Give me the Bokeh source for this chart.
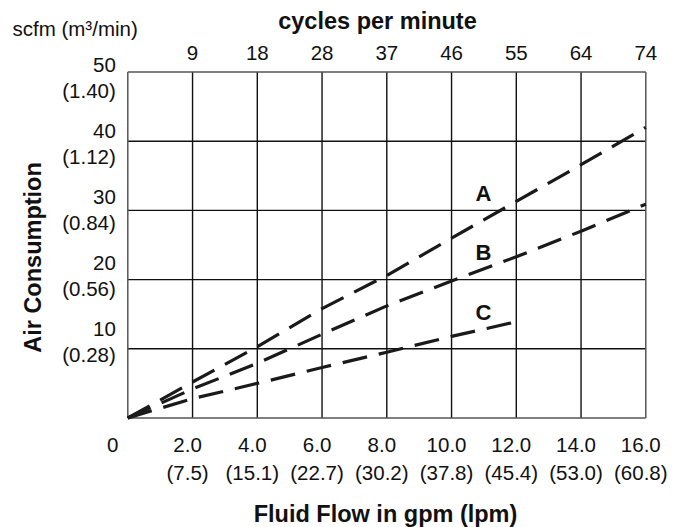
from bokeh.plotting import figure
from bokeh.models import Range1d
from bokeh.core.properties import value
from bokeh.embed import file_html
from bokeh.resources import INLINE

# ---------------- data ----------------
gpm_ticks = [0, 2, 4, 6, 8, 10, 12, 14, 16]
gpm_labels = ["0", "2.0", "4.0", "6.0", "8.0", "10.0", "12.0", "14.0", "16.0"]
lpm_labels = ["(7.5)", "(15.1)", "(22.7)", "(30.2)", "(37.8)", "(45.4)", "(53.0)", "(60.8)"]
cpm_labels = ["9", "18", "28", "37", "46", "55", "64", "74"]
scfm_ticks = [0, 10, 20, 30, 40, 50]
scfm_labels = ["10", "20", "30", "40", "50"]
m3_labels = ["(0.28)", "(0.56)", "(0.84)", "(1.12)", "(1.40)"]

flow_ab = [0, 2, 4, 6, 8, 10, 12, 14, 16]
air_a = [0, 5.2, 10.3, 15.8, 20.6, 26.0, 31.3, 36.6, 42.0]
air_b = [0, 4.2, 7.9, 12.1, 16.2, 19.8, 23.3, 27.0, 30.9]
flow_c = [0, 2, 4, 6, 8, 10, 12]
air_c = [0, 2.8, 5.0, 7.3, 9.5, 11.8, 13.9]
curve_names = ["A", "B", "C"]

# ---------------- layout ----------------
W, H = 675, 527
ORIGIN_X, ORIGIN_Y = 127.3, 417.5      # canvas px of (0 gpm, 0 scfm)
PX_X, PX_Y = 32.375, 6.92              # px per gpm, px per scfm


def gx(px):
    return (px - ORIGIN_X) / PX_X


def gy(py):
    return (ORIGIN_Y - py) / PX_Y


FONT = value("Liberation Sans")
INK = "#111111"
REG = "20.5px"
BOLD = "23.5px"

p = figure(width=W, height=H, output_backend="svg", toolbar_location=None,
           x_range=Range1d(gx(0), gx(W)),
           y_range=Range1d(gy(H), gy(0)),
           x_axis_type=None, y_axis_type=None, min_border=0,
           outline_line_color=None, background_fill_color="white",
           border_fill_color="white")
p.xgrid.visible = False
p.ygrid.visible = False

xmin, xmax = gpm_ticks[0], gpm_ticks[-1]
ymin, ymax = scfm_ticks[0], scfm_ticks[-1]

# inner grid
inner_x = gpm_ticks[1:-1]
p.segment(x0=inner_x, y0=[ymin] * len(inner_x), x1=inner_x, y1=[ymax] * len(inner_x),
          line_color=INK, line_width=1.4)
inner_y = scfm_ticks[1:-1]
p.segment(x0=[xmin] * len(inner_y), y0=inner_y, x1=[xmax] * len(inner_y), y1=inner_y,
          line_color=INK, line_width=1.4)
# frame
p.segment(x0=[xmin, xmax, xmin, xmin], y0=[ymin, ymin, ymin, ymax],
          x1=[xmin, xmax, xmax, xmax], y1=[ymax, ymax, ymin, ymax],
          line_color="#555555", line_width=1.5)

# curves
for xs, ys in [(flow_ab, air_a), (flow_ab, air_b), (flow_c, air_c)]:
    p.line(xs, ys, line_color="#1a1a1a", line_width=3.2, line_dash="25 12",
           line_cap="butt")

# curve labels
lab_x = gx(483)
lab_y = [gy(193), gy(252), gy(312)]
p.text(x=[lab_x] * 3, y=lab_y, text=curve_names, text_font=FONT,
       text_font_style="bold", text_font_size="22px", text_align="center",
       text_baseline="middle", text_color=INK)

# top tick labels (cycles per minute)
p.text(x=gpm_ticks[1:], y=[gy(52)] * len(cpm_labels), text=cpm_labels, text_font=FONT,
       text_font_size=REG, text_align="center", text_baseline="middle",
       text_color=INK)

# bottom tick labels
p.text(x=gpm_ticks[1:], y=[gy(444)] * 8, text=gpm_labels[1:], text_font=FONT,
       text_font_size=REG, text_align="center", text_baseline="middle",
       x_offset=-5, text_color=INK)
p.text(x=[gpm_ticks[0]], y=[gy(444)], text=[gpm_labels[0]], text_font=FONT,
       text_font_size=REG, text_align="center", text_baseline="middle",
       x_offset=-15, text_color=INK)
p.text(x=gpm_ticks[1:], y=[gy(472)] * 8, text=lpm_labels, text_font=FONT,
       text_font_size=REG, text_align="center", text_baseline="middle",
       x_offset=-5, text_color=INK)

# left tick labels
SPREAD = 66.1 / 69.2
top_center = gy(77)
left_y = [top_center - (ymax - v) * SPREAD for v in scfm_ticks[1:]]
p.text(x=[xmin] * 5, y=left_y, text=scfm_labels, text_font=FONT,
       text_font_size=REG, text_align="right", text_baseline="middle",
       x_offset=-12, y_offset=-13, text_color=INK)
p.text(x=[xmin] * 5, y=left_y, text=m3_labels, text_font=FONT,
       text_font_size=REG, text_align="right", text_baseline="middle",
       x_offset=-12, y_offset=13, text_color=INK)

# titles
p.text(x=[gx(12)], y=[gy(28)], text=["scfm (m³/min)"], text_font=FONT,
       text_font_size=REG, text_align="left", text_baseline="middle",
       text_color=INK)
p.text(x=[gx(377)], y=[gy(20)], text=["cycles per minute"], text_font=FONT,
       text_font_style="bold", text_font_size=BOLD, text_align="center",
       text_baseline="middle", text_color=INK)
p.text(x=[gx(385)], y=[gy(513)], text=["Fluid Flow in gpm (lpm)"], text_font=FONT,
       text_font_style="bold", text_font_size=BOLD, text_align="center",
       text_baseline="middle", text_color=INK)
p.text(x=[gx(32)], y=[gy(257)], text=["Air Consumption"], text_font=FONT,
       text_font_style="bold", text_font_size=BOLD, text_align="center",
       text_baseline="middle", angle=1.5707963, text_color=INK)

open("out.html", "w").write(file_html(p, INLINE))
